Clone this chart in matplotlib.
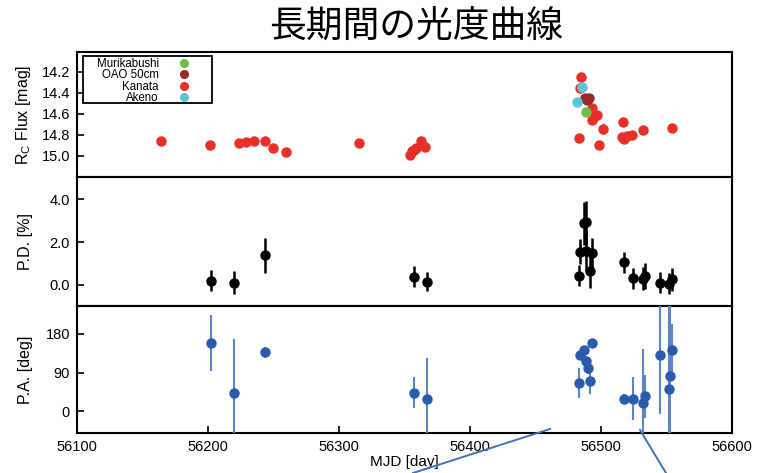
import numpy as np
import matplotlib
matplotlib.use('Agg')
import matplotlib.pyplot as plt
from matplotlib.lines import Line2D
from matplotlib.patches import Rectangle

plt.rcParams['font.family'] = ['Liberation Sans', 'Noto Sans CJK JP', 'DejaVu Sans']
plt.rcParams['font.size'] = 10

# R_C light curve (MJD, mag) per telescope
kanata_t = [56164, 56201.5, 56224, 56229, 56235, 56243.5, 56250, 56259.5,
            56315, 56354, 56356, 56357, 56359, 56363, 56366,
            56485, 56484, 56483, 56493, 56495, 56493, 56497, 56501.5, 56498.5,
            56517, 56516, 56517.5, 56520, 56524, 56532, 56554]
kanata_m = [14.86, 14.90, 14.88, 14.87, 14.86, 14.86, 14.92, 14.96,
            14.88, 14.99, 14.95, 14.94, 14.92, 14.86, 14.91,
            14.25, 14.35, 14.83, 14.54, 14.63, 14.66, 14.61, 14.74, 14.90,
            14.68, 14.82, 14.84, 14.81, 14.80, 14.75, 14.73]
kanata_e = [0] * 22 + [0.05] + [0] * 8
oao_t = [56488, 56491, 56489.5]
oao_m = [14.45, 14.45, 14.47]
akeno_t = [56486, 56482]
akeno_m = [14.34, 14.49]
muri_t = [56489]
muri_m = [14.58]

# polarization degree
pd_t = [56202, 56220, 56243.5, 56357, 56367, 56483, 56484, 56487, 56489, 56489,
        56493, 56492, 56518, 56524.5, 56532, 56533.5, 56545, 56552, 56554]
pd_v = [0.19, 0.10, 1.37, 0.38, 0.15, 0.43, 1.55, 2.87, 2.92, 1.60,
        1.50, 0.65, 1.05, 0.30, 0.28, 0.40, 0.10, 0.05, 0.25]
pd_e = [0.5, 0.55, 0.8, 0.5, 0.45, 0.5, 0.6, 1.0, 1.0, 0.9,
        0.7, 0.8, 0.5, 0.5, 0.55, 0.6, 0.5, 0.5, 0.55]

# polarization angle
pa_t = [56202, 56220, 56243.5, 56357, 56367, 56483, 56484, 56487, 56489, 56490,
        56492, 56493, 56518, 56524.5, 56532, 56533.5, 56545, 56552, 56553, 56554]
pa_v = [160, 44, 137, 44, 30, 67, 130, 142, 118, 102,
        70, 158, 30, 30, 20, 35, 130, 53, 82, 142]
pa_e = [65, 125, 12, 35, 95, 35, 10, 8, 10, 15,
        30, 6, 10, 50, 125, 50, 135, 200, 200, 60]

fig = plt.figure(figsize=(7.64, 4.73), dpi=100)
L, W = 0.1008, 0.857
ax1 = fig.add_axes([L, 0.6258, W, 0.2643])
ax2 = fig.add_axes([L, 0.3530, W, 0.2728], sharex=ax1)
ax3 = fig.add_axes([L, 0.0846, W, 0.2685], sharex=ax1)

ms = 6.5
ax1.errorbar(kanata_t, kanata_m, yerr=kanata_e, fmt='o', color='#e8302a', ms=ms, lw=1, zorder=2)
ax1.plot(oao_t, oao_m, 'o', color='#962a2a', ms=ms, zorder=3)
ax1.plot(akeno_t, akeno_m, 'o', color='#5cc6d6', ms=ms, zorder=3)
ax1.plot(muri_t, muri_m, 'o', color='#6cbf45', ms=ms, zorder=4)
ax1.set_ylim(15.2, 14.01)
ax1.set_yticks([14.2, 14.4, 14.6, 14.8, 15.0])
ax1.set_yticklabels(['14.2', '14.4', '14.6', '14.8', '15.0'])
ax1.set_ylabel('R$_\\mathregular{C}$ Flux [mag]', fontsize=11.5)

handles = [Line2D([], [], ls='', marker='o', ms=5.5, color=c) for c in
           ['#6cbf45', '#962a2a', '#e8302a', '#5cc6d6']]
leg = ax1.legend(handles, ['Murikabushi', 'OAO 50cm', 'Kanata', 'Akeno'], loc='upper left',
                 bbox_to_anchor=(0.03, 0.952), markerfirst=False, fontsize=8.3, frameon=False,
                 borderpad=0.0, labelspacing=-0.05, handletextpad=1.7, handlelength=1.0,
                 borderaxespad=0.0)
for t in leg.get_texts():
    t.set_ha('right')
leg._legend_box.align = 'right'
ax1.add_patch(Rectangle((0.009, 0.592), 0.197, 0.376, transform=ax1.transAxes,
                        fill=False, edgecolor='black', lw=1.3, zorder=5))

ax2.errorbar(pd_t, pd_v, yerr=pd_e, fmt='o', color='black', ms=ms, lw=1.8, zorder=3)
ax2.set_ylim(-1.0, 5.05)
ax2.set_yticks([0, 2, 4])
ax2.set_yticklabels(['0.0', '2.0', '4.0'])
ax2.set_ylabel('P.D. [%]', fontsize=11.5)

ax3.errorbar(pa_t, pa_v, yerr=pa_e, fmt='o', color='#2a5cac', ecolor='#5a86c8', ms=ms, lw=1.5, zorder=3)
ax3.set_ylim(-50, 245)
ax3.set_yticks([0, 90, 180])
ax3.set_ylabel('P.A. [deg]', fontsize=11.5)
ax3.set_xlim(56100, 56600)
ax3.set_xticks([56100, 56200, 56300, 56400, 56500, 56600])
ax3.set_xticklabels(['56100', '56200', '56300', '56400', '56500', '56600'])
ax3.set_xlabel('MJD [day]', labelpad=1, fontsize=11)

for ax in (ax1, ax2, ax3):
    for s in ax.spines.values():
        s.set_linewidth(1.5)
    ax.tick_params(direction='in', width=1.2, length=5, labelsize=10.5, pad=5)
    ax.yaxis.set_label_coords(-0.067, 0.5)
for ax in (ax1, ax2):
    ax.tick_params(axis='x', bottom=False, labelbottom=False)

# slide annotation lines
fig.add_artist(Line2D([550 / 764, 413 / 764], [1 - 429 / 473, 0], color='#3f72b8', lw=1.4))
fig.add_artist(Line2D([640 / 764, 666 / 764], [1 - 430 / 473, 0], color='#3f72b8', lw=1.4))

fig.text(416 / 764, 1 - 26 / 473, '長期間の光度曲線', ha='center', va='center', fontsize=26.5,
         family=['Noto Sans CJK JP'])

fig.savefig('out.png', dpi=100)
